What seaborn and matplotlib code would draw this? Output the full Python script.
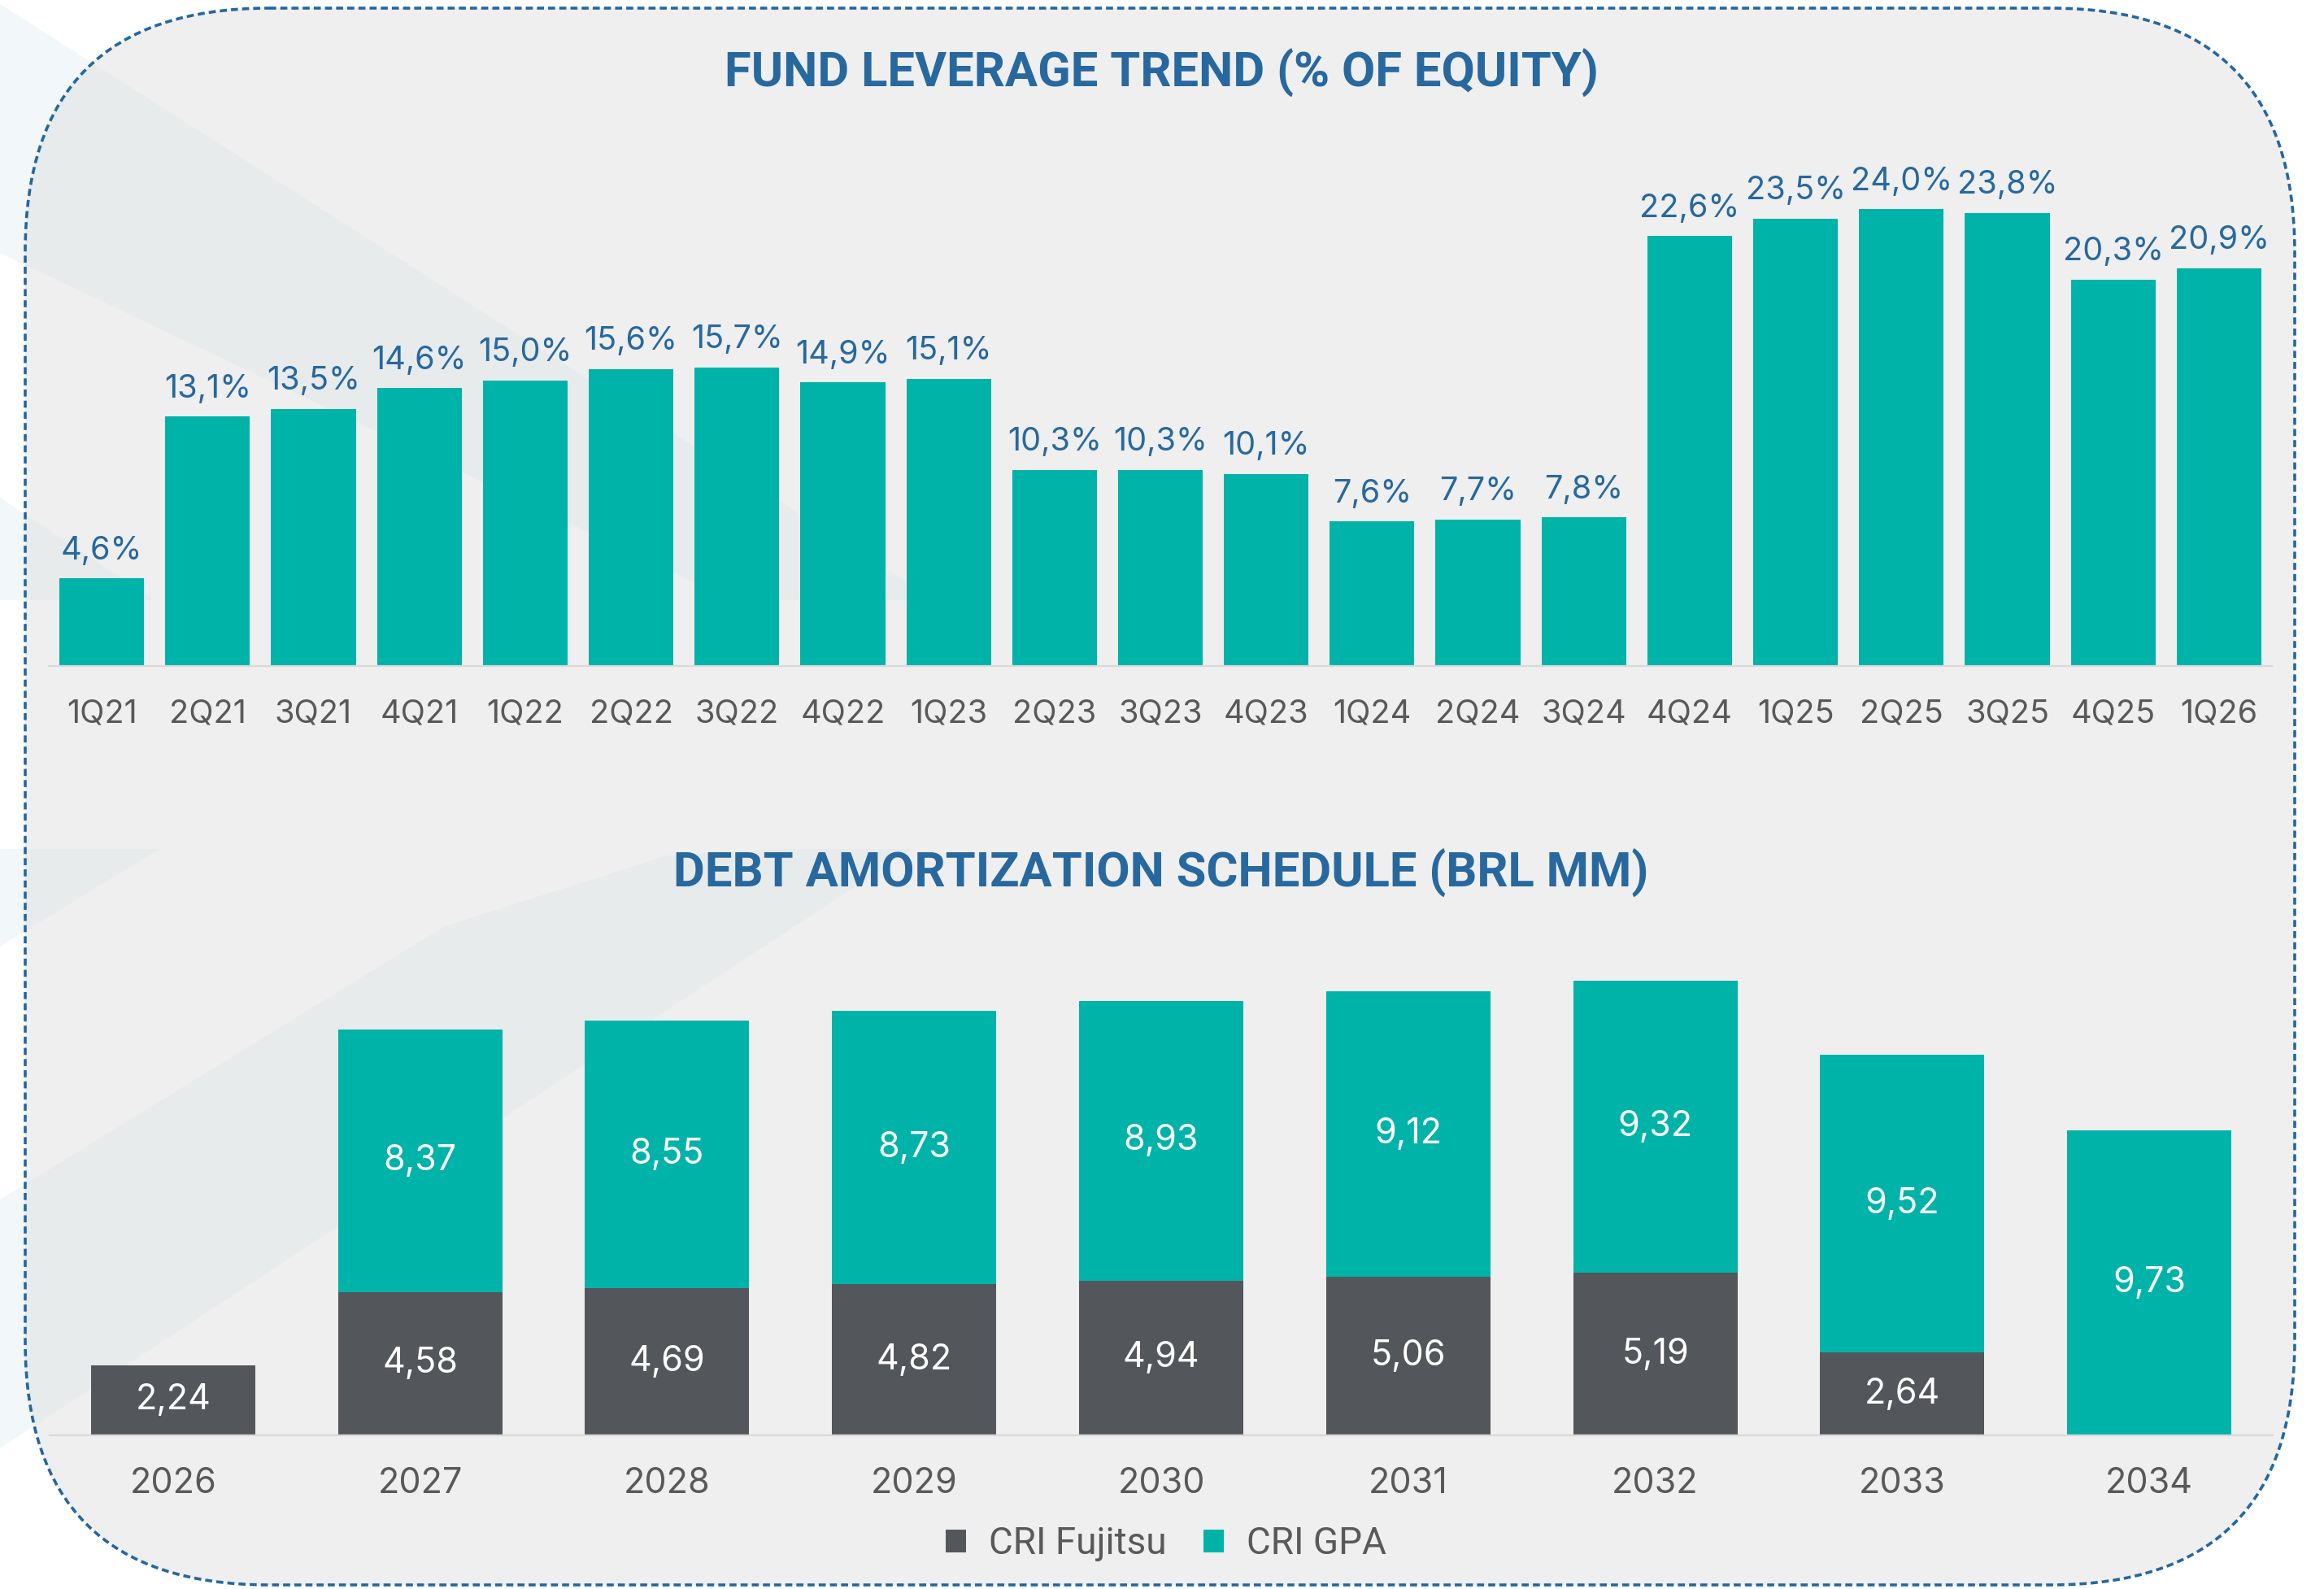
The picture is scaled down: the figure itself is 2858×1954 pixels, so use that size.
import matplotlib
matplotlib.use("Agg")
import matplotlib.pyplot as plt
import seaborn as sns
from matplotlib.patches import FancyBboxPatch, Polygon, Patch

# Fund leverage (% of equity) by quarter
quarters = ["1Q21", "2Q21", "3Q21", "4Q21", "1Q22", "2Q22", "3Q22", "4Q22", "1Q23",
            "2Q23", "3Q23", "4Q23", "1Q24", "2Q24", "3Q24", "4Q24", "1Q25", "2Q25",
            "3Q25", "4Q25", "1Q26"]
leverage = [4.6, 13.1, 13.5, 14.6, 15.0, 15.6, 15.7, 14.9, 15.1, 10.3, 10.3, 10.1,
            7.6, 7.7, 7.8, 22.6, 23.5, 24.0, 23.8, 20.3, 20.9]

# Debt amortization schedule (BRL MM)
years = ["2026", "2027", "2028", "2029", "2030", "2031", "2032", "2033", "2034"]
cri_fujitsu = [2.24, 4.58, 4.69, 4.82, 4.94, 5.06, 5.19, 2.64, 0.0]
cri_gpa = [0.0, 8.37, 8.55, 8.73, 8.93, 9.12, 9.32, 9.52, 9.73]

TEAL = "#00B3A8"
DARK = "#53565A"
BLUE = "#27689F"
GREY_TXT = "#595959"

sns.set_theme(style="white")
plt.rcParams["font.family"] = ["Inter", "DejaVu Sans"]

W, H = 2858, 1954
fig = plt.figure(figsize=(W / 100, H / 100), dpi=100, facecolor="white")

# background panel with faint diagonal bands
bg = fig.add_axes([0, 0, 1, 1])
bg.set_xlim(0, W)
bg.set_ylim(H, 0)
bg.axis("off")

bands = [
    [(0, 5), (1150, 738), (900, 738), (0, 311)],
    [(0, 612), (190, 738), (0, 738)],
    [(0, 1044), (196, 1044), (0, 1164)],
    [(0, 1475), (547, 1139), (821, 1052), (958, 1044), (1122, 1044), (0, 1781)],
]
for b in bands:
    bg.add_patch(Polygon(b, closed=True, facecolor="#F2F7F9", edgecolor="none", zorder=0))

panel = FancyBboxPatch((31, 10), 2791, 1939, boxstyle="round,pad=0,rounding_size=300",
                       facecolor="#EFEFEF", edgecolor="none", zorder=1)
bg.add_patch(panel)
for b in bands:
    p = Polygon(b, closed=True, facecolor="#E8EBEC", edgecolor="none", zorder=2)
    bg.add_patch(p)
    p.set_clip_path(panel)
bg.add_patch(FancyBboxPatch((31, 10), 2791, 1939, boxstyle="round,pad=0,rounding_size=300",
                            facecolor="none", edgecolor="#2466A0", linewidth=2.6,
                            linestyle=(0, (2.4, 1.4)), zorder=3))

title_kw = dict(ha="center", va="center", fontsize=43, fontweight="bold",
                family=["Roboto", "DejaVu Sans"], color=BLUE)
fig.text(1428 / W, 1 - 90 / H, "FUND LEVERAGE TREND (% OF EQUITY)", **title_kw)
fig.text(1428 / W, 1 - 1074 / H, "DEBT AMORTIZATION SCHEDULE (BRL MM)", **title_kw)


def style_axis(ax, pad, size):
    ax.set_facecolor("none")
    for side in ["top", "right", "left"]:
        ax.spines[side].set_visible(False)
    ax.spines["bottom"].set_color("#D9D9D9")
    ax.spines["bottom"].set_linewidth(1.6)
    ax.set_yticks([])
    ax.set_xlabel("")
    ax.set_ylabel("")
    ax.tick_params(axis="x", length=0, pad=pad, labelsize=size, labelcolor=GREY_TXT)


# top chart
ax1 = fig.add_axes([60 / W, 1 - 819 / H, 2734 / W, 28 * 23.4 / H])
sns.barplot(x=quarters, y=leverage, color=TEAL, saturation=1, width=0.8,
            errorbar=None, linewidth=0, ax=ax1)
ax1.set_xlim(-0.5, len(quarters) - 0.5)
ax1.set_ylim(0, 28)
style_axis(ax1, 29, 28.5)
for i, v in enumerate(leverage):
    ax1.annotate(f"{v:.1f}".replace(".", ",") + "%", (i, v), xytext=(0, 17),
                 textcoords="offset points", ha="center", va="baseline",
                 fontsize=28.5, color=BLUE)

# bottom chart (stacked: total in teal, Fujitsu overlaid in dark grey)
totals = [f + g for f, g in zip(cri_fujitsu, cri_gpa)]
ax2 = fig.add_axes([61 / W, 1 - 1765 / H, 2734 / W, 16 * 38.5 / H])
sns.barplot(x=years, y=totals, color=TEAL, saturation=1, width=0.665,
            errorbar=None, linewidth=0, ax=ax2)
sns.barplot(x=years, y=cri_fujitsu, color=DARK, saturation=1, width=0.665,
            errorbar=None, linewidth=0, ax=ax2)
ax2.set_xlim(-0.5, len(years) - 0.5)
ax2.set_ylim(0, 16)
style_axis(ax2, 28, 31)
for i, (f, g) in enumerate(zip(cri_fujitsu, cri_gpa)):
    if f > 0:
        ax2.text(i, f / 2, f"{f:.2f}".replace(".", ","), ha="center", va="center",
                 fontsize=31, color="white")
    if g > 0:
        ax2.text(i, f + g / 2, f"{g:.2f}".replace(".", ","), ha="center", va="center",
                 fontsize=31, color="white")

handles = [Patch(facecolor=DARK, edgecolor="none", label="CRI Fujitsu"),
           Patch(facecolor=TEAL, edgecolor="none", label="CRI GPA")]
leg = fig.legend(handles=handles, loc="center", bbox_to_anchor=(1434 / W, 1 - 1898 / H),
                 ncol=2, frameon=False, handlelength=0.55, handleheight=0.55,
                 handletextpad=0.6, columnspacing=1.0,
                 prop={"family": ["Roboto", "DejaVu Sans"], "size": 33})
for t in leg.get_texts():
    t.set_color(GREY_TXT)

fig.savefig("out.png", dpi=100, facecolor="white")
